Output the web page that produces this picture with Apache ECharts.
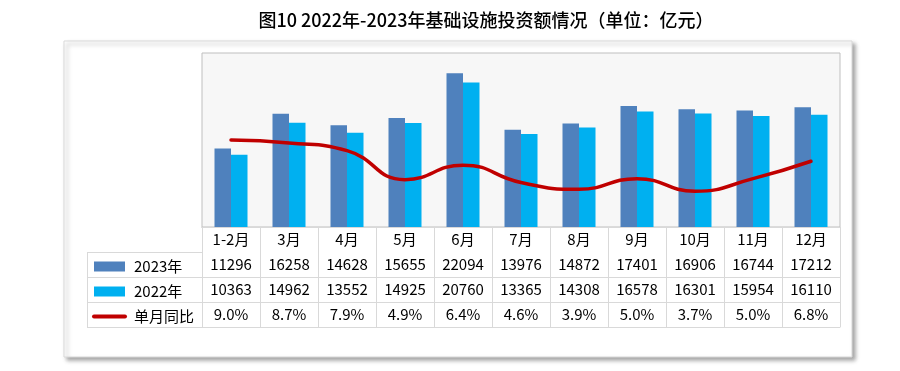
<!DOCTYPE html>
<html>
<head>
<meta charset="utf-8">
<script src="https://cdn.jsdelivr.net/npm/echarts@6/dist/echarts.min.js"></script>
<style>
html,body{margin:0;padding:0;background:#fff;}
#chart{width:900px;height:371px;}
</style>
</head>
<body>
<div id="chart"></div>
<script>
// ---- data ----
const categories = ['1-2月','3月','4月','5月','6月','7月','8月','9月','10月','11月','12月'];
const values2023 = [11296,16258,14628,15655,22094,13976,14872,17401,16906,16744,17212];
const values2022 = [10363,14962,13552,14925,20760,13365,14308,16578,16301,15954,16110];
const yoyValues  = [9.0,8.7,7.9,4.9,6.4,4.6,3.9,5.0,3.7,5.0,6.8];
const seriesNames = ['2023年','2022年','单月同比'];
const titleText = '图10 2022年-2023年基础设施投资额情况（单位：亿元）';

// ---- layout ----
const FONT = '"Noto Sans CJK SC", "Noto Sans", sans-serif';
const gridLeft = 202, gridRight = 840, gridTop = 53, gridBottom = 227;
const rowH = 25, tableLeft = 87;
const lineColor = '#d9d9d9';

const chart = echarts.init(document.getElementById('chart'));

function tableAxis(data, offset, fmt) {
  return {
    type: 'category', gridIndex: 0, position: 'bottom', offset: offset,
    data: data, boundaryGap: true,
    axisLine: { show: true, lineStyle: { color: lineColor, width: 1 } },
    axisTick: { show: false },
    axisLabel: { show: !!fmt, interval: 0, margin: 5, fontSize: 15, color: '#000', fontFamily: FONT,
      formatter: fmt || undefined }
  };
}

const graphics = [{
  type: 'rect', z: -100,
  shape: { x: 64, y: 41, width: 788, height: 316 },
  style: { fill: '#fff', stroke: '#d9d9d9', lineWidth: 1,
    shadowColor: 'rgba(0,0,0,0.35)', shadowBlur: 4, shadowOffsetX: 3, shadowOffsetY: 3 }
}];
for (let i = 1; i <= 4; i++) {
  const y = gridBottom + rowH * i + 0.5;
  graphics.push({ type: 'line', z: 10, shape: { x1: tableLeft, y1: y, x2: gridLeft, y2: y },
    style: { stroke: lineColor, lineWidth: 1 } });
}
graphics.push({ type: 'line', z: 10,
  shape: { x1: tableLeft + 0.5, y1: gridBottom + rowH + 0.5, x2: tableLeft + 0.5, y2: gridBottom + rowH * 4 + 0.5 },
  style: { stroke: lineColor, lineWidth: 1 } });

const option = {
  backgroundColor: '#fff',
  animation: false,
  title: {
    text: titleText, left: 481, top: 6, textAlign: 'center',
    textStyle: { fontFamily: FONT, fontSize: 18, fontWeight: 500, color: '#000' }
  },
  legend: {
    orient: 'vertical', left: 87, top: 254, itemGap: 10, itemWidth: 31, itemHeight: 10,
    selectedMode: false,
    data: [
      { name: seriesNames[0], icon: 'rect' },
      { name: seriesNames[1], icon: 'rect' },
      { name: seriesNames[2], itemStyle: { opacity: 0 }, lineStyle: { width: 4, color: '#c00000' } }
    ],
    textStyle: { fontFamily: FONT, fontSize: 15, color: '#000', lineHeight: 15, padding: [0, 0, 0, 4] }
  },
  grid: {
    left: gridLeft, right: 900 - gridRight, top: gridTop, bottom: 371 - gridBottom,
    show: true, backgroundColor: '#f7f7f7', borderColor: '#bfbfbf', borderWidth: 1
  },
  graphic: graphics,
  xAxis: [
    {
      type: 'category', gridIndex: 0, position: 'bottom', data: categories, boundaryGap: true,
      axisLine: { show: true, lineStyle: { color: '#bfbfbf', width: 1 } },
      axisTick: { show: true, interval: 0, length: rowH * 4, lineStyle: { color: lineColor } },
      axisLabel: { interval: 0, margin: 5, fontSize: 15, color: '#000', fontFamily: FONT }
    },
    tableAxis(values2023.map(String), rowH, v => v),
    tableAxis(values2022.map(String), rowH * 2, v => v),
    tableAxis(yoyValues.map(v => v.toFixed(1) + '%'), rowH * 3, v => v),
    tableAxis(categories, rowH * 4, null)
  ],
  yAxis: [
    { type: 'value', min: 0, max: 25000, show: false, splitLine: { show: false } },
    { type: 'value', min: 0, max: 18, show: false, splitLine: { show: false } }
  ],
  series: [
    { name: seriesNames[0], type: 'bar', data: values2023, barWidth: 16.5, barGap: '0%',
      itemStyle: { color: '#4f81bd' }, xAxisIndex: 0, yAxisIndex: 0 },
    { name: seriesNames[1], type: 'bar', data: values2022, barWidth: 16.5, barGap: '0%',
      itemStyle: { color: '#00b0f0' }, xAxisIndex: 0, yAxisIndex: 0 },
    { name: seriesNames[2], type: 'line', data: yoyValues, smooth: 0.5, symbol: 'none',
      lineStyle: { color: '#c00000', width: 3.5, cap: 'round' }, itemStyle: { color: '#c00000' },
      xAxisIndex: 0, yAxisIndex: 1, z: 5 }
  ]
};
chart.setOption(option);
</script>
</body>
</html>
